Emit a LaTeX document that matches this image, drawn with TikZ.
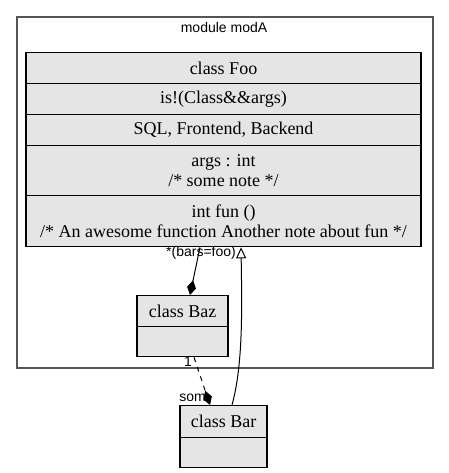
\documentclass[tikz,border=0pt]{standalone}
\usepackage{fontspec}
\setmainfont{Liberation Serif}
\newfontfamily\labelfont{Liberation Sans}
\usetikzlibrary{arrows.meta}
\definecolor{boxgray}{HTML}{E5E5E5}
\definecolor{modgray}{HTML}{555555}
\begin{document}
\begin{tikzpicture}[x=1pt,y=-1pt,
  row/.style={draw=black, fill=boxgray, line width=1.3pt, inner sep=0pt, anchor=north,
    font=\fontsize{18}{20}\selectfont, align=center},
  foorow/.style={row, minimum width=395pt},
  lbl/.style={inner sep=0pt, font=\labelfont\fontsize{14}{16}\selectfont},
  conn/.style={line width=1pt, black},
  comp/.style={conn, -{Diamond[length=15pt,width=9pt]}},
  inh/.style={conn, -{Triangle[open,fill=white,length=11pt,width=10pt]}}]
\useasboundingbox (0,0) rectangle (448,473);
% module
\node[draw=modgray, line width=2pt, minimum width=416pt, minimum height=351pt, anchor=north west, inner sep=0pt] (modA) at (16,16) {};
\node[lbl] (modlabel) at (224,27) {module modA};
% Foo
\node[foorow, minimum height=31pt] (foo1) at (223.5,52) {class Foo};
\node[foorow, minimum height=31pt] (foo2) at (223.5,83) {is!(Class\&\&args)};
\node[foorow, minimum height=31pt] (foo3) at (223.5,114) {SQL, Frontend, Backend};
\node[foorow, minimum height=50pt] (foo4) at (223.5,145) {args : int\\/* some note */};
\node[foorow, minimum height=51pt] (foo5) at (223.5,195) {int fun ()\\/* An awesome function Another note about fun */};
% Baz
\node[row, minimum width=91pt, minimum height=31pt] (baz1) at (182.5,295) {class Baz};
\node[row, minimum width=91pt, minimum height=30pt] (baz2) at (182.5,326) {};
% Bar
\node[row, minimum width=87pt, minimum height=32pt] (bar1) at (223.5,405) {class Bar};
\node[row, minimum width=87pt, minimum height=30pt] (bar2) at (223.5,437) {};
% connectors
\draw[comp] ([xshift=-23.5pt]foo5.south) -- ([xshift=7.5pt]baz1.north);
\draw[inh] ([xshift=8.5pt]bar1.north) .. controls (243,365) and (242,310) .. ([xshift=17.5pt]foo5.south);
\draw[comp, dash pattern=on 5pt off 5pt] ([xshift=11.5pt]baz2.south) -- ([xshift=-13.5pt]bar1.north);
% labels
\node[lbl] (lb1) at (201,253) {*(bars=foo)};
\node[lbl] (lb2) at (188,362) {1};
\node[lbl, anchor=east] (lb3) at (206,398) {som};
\end{tikzpicture}
\end{document}
